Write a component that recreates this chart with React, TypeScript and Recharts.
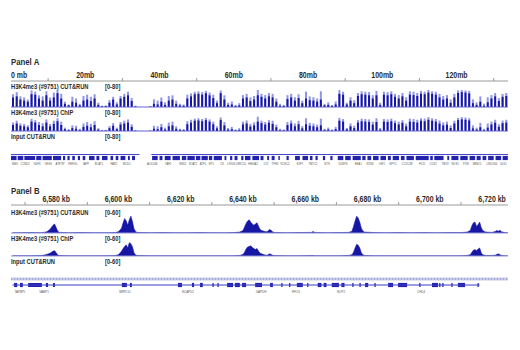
import React from 'react'
import { BarChart, Bar, XAxis, YAxis, ComposedChart, Area, ReferenceLine, ReferenceArea } from 'recharts'

const FONT = '"Liberation Sans", Arial, sans-serif'
const SQUEEZE = 0.82
const DARK = '#1616a4'
const LIGHT = '#9195e4'
const AXIS = '#9a9a9a'
const TEXT = '#2b2b2b'
const W = 497
const LEFT = 11

// ---- Panel A: whole chromosome, 1 mb bins (index = mb) ----
const cutrunLightA = [60, 70, 50, 45, 35, 78, 72, 55, 50, 74, 45, 68, 80, 62, 25, 12, 48, 40, 15, 52, 58, 48, 60, 20, 6, 8, 32, 48, 22, 52, 62, 72, 42, 6, 0, 0, 0, 4, 36, 30, 45, 22, 52, 55, 30, 15, 12, 58, 64, 72, 74, 70, 76, 68, 58, 30, 78, 55, 20, 26, 10, 18, 56, 62, 45, 52, 80, 62, 56, 66, 62, 40, 15, 10, 56, 62, 46, 60, 30, 72, 50, 46, 40, 74, 15, 22, 10, 26, 80, 72, 20, 46, 32, 66, 74, 72, 70, 56, 76, 20, 72, 70, 74, 62, 56, 66, 46, 74, 72, 66, 76, 72, 80, 74, 72, 62, 52, 56, 36, 62, 78, 80, 78, 76, 36, 22, 50, 16, 46, 56, 66, 42, 62, 66]
const cutrunDarkA = [45, 50, 35, 30, 25, 60, 58, 40, 30, 55, 30, 45, 65, 40, 15, 8, 25, 20, 8, 30, 35, 28, 40, 10, 3, 4, 20, 35, 12, 40, 48, 55, 28, 3, 0, 0, 0, 2, 15, 12, 25, 10, 30, 35, 15, 8, 6, 40, 50, 60, 62, 58, 65, 55, 42, 18, 65, 35, 10, 12, 5, 8, 40, 45, 28, 35, 55, 48, 40, 50, 45, 25, 6, 5, 38, 45, 30, 42, 18, 40, 32, 30, 25, 35, 8, 10, 5, 12, 62, 58, 12, 30, 18, 52, 60, 58, 55, 40, 55, 10, 58, 55, 60, 48, 40, 50, 30, 58, 56, 52, 62, 60, 68, 62, 58, 45, 35, 40, 20, 45, 66, 70, 68, 64, 18, 10, 25, 6, 22, 40, 50, 28, 48, 52]
const chipLightA = [45, 55, 40, 38, 30, 65, 58, 48, 42, 62, 38, 55, 68, 50, 18, 10, 30, 28, 12, 40, 48, 38, 52, 15, 5, 6, 26, 42, 18, 48, 55, 62, 36, 5, 0, 0, 0, 3, 28, 25, 38, 18, 45, 50, 25, 12, 10, 52, 60, 66, 68, 64, 70, 62, 50, 25, 72, 48, 16, 22, 8, 15, 50, 56, 38, 46, 76, 55, 48, 58, 55, 34, 12, 8, 48, 56, 40, 54, 26, 68, 44, 40, 34, 66, 12, 18, 8, 22, 70, 64, 16, 40, 28, 58, 66, 64, 62, 50, 68, 16, 64, 62, 66, 56, 50, 58, 40, 66, 64, 60, 68, 66, 74, 68, 64, 56, 46, 50, 30, 55, 70, 74, 72, 68, 30, 18, 44, 12, 40, 50, 60, 36, 56, 60]
const chipDarkA = [32, 40, 28, 25, 20, 50, 45, 32, 25, 45, 25, 38, 52, 32, 10, 5, 15, 12, 6, 22, 28, 20, 32, 8, 2, 3, 15, 28, 10, 35, 40, 45, 22, 2, 0, 0, 0, 1, 12, 10, 20, 8, 25, 30, 12, 6, 5, 36, 45, 55, 56, 52, 58, 50, 36, 14, 58, 30, 8, 10, 4, 6, 35, 40, 24, 30, 50, 42, 34, 44, 38, 20, 5, 4, 32, 40, 25, 36, 14, 36, 28, 25, 20, 30, 6, 8, 4, 10, 55, 50, 9, 25, 15, 45, 52, 50, 48, 34, 48, 8, 50, 48, 52, 42, 35, 44, 25, 50, 48, 45, 55, 52, 60, 55, 50, 40, 30, 34, 16, 40, 58, 62, 60, 56, 14, 8, 20, 5, 18, 35, 44, 22, 42, 45]

const rulerMajorA = [0, 20, 40, 60, 80, 100, 120]
const rulerTextA = ['0 mb', '20mb', '40mb', '60mb', '80mb', '100mb', '120mb']
const rulerMinorA = [10, 30, 50, 70, 90, 110, 130]
const chromLenA = 133.85

const inputSegmentsA: [number, number][] = [[0, 34.6], [37.8, 133.85]]

const geneBlocksA: [number, number][] = [
  [0, 1.5], [1.8, 3.3], [3.6, 6.5], [6.8, 8.2], [8.5, 11], [11.3, 13.5], [14, 14.6], [15.2, 15.8], [16.5, 17.2],
  [18, 18.6], [19.3, 20], [21, 22.5], [23, 23.8], [24.5, 26], [26.8, 27.5], [28.2, 28.9], [29.5, 30.8], [31.5, 32],
  [32.6, 33.4], [38, 39.5], [40, 40.8], [41.4, 43], [43.5, 45.5], [46, 47.2], [47.5, 49.5], [49.8, 51], [51.3, 53],
  [53.3, 54.2], [54.6, 56.8], [57.5, 58], [59, 59.6], [60.2, 61], [62, 62.6], [63, 64.5], [65, 66.8], [67.2, 68],
  [69, 69.5], [70.2, 71], [72, 72.4], [74.2, 74.8], [76.5, 77.8], [78.5, 80], [80.5, 81.2], [82, 82.6], [84, 84.6],
  [86, 86.6], [88, 89.5], [90, 91.5], [92, 94.2], [94.6, 95.5], [96, 97], [97.5, 99], [99.5, 101], [101.5, 102.3],
  [102.8, 104.5], [105, 106], [106.5, 108.5], [109, 112.5], [112.9, 113.6], [114, 116.5], [117.5, 118], [118.6, 120.5],
  [121, 123], [123.5, 125], [125.4, 126.5], [127, 128], [128.5, 130], [130.5, 132], [132.4, 133.8],
]
const geneLabelMbA = [1.0, 3.8, 7.0, 10.0, 13.2, 16.7, 20.2, 23.7, 27.7, 31.2, 38.0, 42.3, 46.3, 49.0, 51.7, 53.9, 56.8, 59.3, 61.9, 65.2, 68.7, 71.1, 73.8, 77.8, 81.3, 85.1, 89.4, 93.5, 96.7, 99.9, 102.9, 106.7, 110.7, 113.7, 116.9, 119.6, 122.5, 125.5, 129.5, 132.6]
const geneLabelTextA = ['SMG', 'CCND2', 'GDF3', 'VEGS', 'ATF7IP', 'RERGL', 'IAPP', 'BCAT1', 'FAR2', 'BICD1', 'ALG10B', 'YAF2', 'RND1', 'SOAT2', 'ATF1', 'SP1', 'CS', 'LRIG3', 'LRRC10', 'HMGA2', 'LYZ', 'TPH2', 'KCNC2', 'E2F7', 'TMTC2', 'NTS', 'DUSP6', 'EEA1', 'NTN4', 'IGF1', 'EPYC', 'CCDC38', 'FICD', 'CUX2', 'TBX3', 'NOS1', 'PXN', 'SBNO1', 'LINC944', 'ULK1']

// ---- Panel B: 6,565-6,725 kb ----
const kbB = [6566, 6569, 6572, 6575, 6576, 6577, 6578, 6579, 6579.5, 6580, 6580.5, 6581, 6584, 6588, 6592, 6596, 6599, 6600, 6601, 6601.5, 6602, 6602.5, 6603, 6603.5, 6604, 6604.5, 6605, 6605.5, 6606, 6610, 6614, 6618, 6622, 6626, 6630, 6634, 6637, 6639, 6640, 6640.5, 6641, 6641.5, 6642, 6642.5, 6643, 6643.5, 6644, 6644.5, 6645, 6645.5, 6646, 6647, 6647.5, 6648, 6648.5, 6649, 6649.5, 6650, 6654, 6658, 6662, 6662.5, 6663, 6667, 6671, 6674, 6675, 6675.5, 6676, 6676.5, 6677, 6677.5, 6678, 6678.5, 6679, 6682, 6686, 6690, 6694, 6698, 6702, 6706, 6710, 6712, 6713, 6713.5, 6714, 6714.5, 6715, 6715.5, 6716, 6716.5, 6717, 6717.5, 6718, 6720, 6721, 6721.5, 6722, 6722.5, 6723, 6724, 6725]
const cutrunB = [1, 1, 1.5, 1, 2, 4, 12, 26, 30, 18, 6, 2, 1, 1.5, 1, 1, 1.5, 4, 16, 34, 48, 40, 26, 44, 56, 38, 14, 5, 2, 1, 1.5, 1, 1, 1.5, 1, 1, 1.5, 3, 8, 20, 32, 40, 44, 36, 30, 26, 30, 34, 22, 12, 8, 5, 4, 6, 12, 9, 4, 2, 1, 1.5, 2, 5, 2, 1, 1.5, 2, 6, 22, 40, 56, 50, 36, 16, 7, 3, 1.5, 1, 1.5, 1, 1.5, 1, 1.5, 1.5, 3, 8, 24, 34, 36, 22, 28, 36, 18, 8, 5, 3, 2, 5, 8, 6, 9, 4, 1.5, 1]
const chipB = [1, 1, 1, 1.5, 3, 6, 10, 18, 20, 12, 4, 1.5, 1, 1, 1, 1, 1.5, 5, 18, 28, 36, 42, 30, 50, 46, 34, 12, 4, 2, 1, 1, 1, 1, 1, 1, 1, 1, 2, 6, 14, 26, 34, 36, 38, 32, 28, 24, 28, 18, 10, 8, 4, 3, 4, 8, 6, 3, 1.5, 1, 1, 1.5, 2, 1, 1, 1, 2, 5, 14, 30, 44, 40, 30, 12, 5, 2, 1, 1, 1, 1, 1, 1, 1, 1, 2, 5, 14, 22, 24, 20, 26, 30, 12, 5, 3, 2, 2, 3, 6, 8, 5, 2, 1, 1]

const domainB: [number, number] = [6565.5, 6725.1]
const rulerMajorB = [6580, 6600, 6620, 6640, 6660, 6680, 6700, 6720]
const rulerTextB = ['6,580 kb', '6,600 kb', '6,620 kb', '6,640 kb', '6,660 kb', '6,680 kb', '6,700 kb', '6,720 kb']
const rulerMinorB = [6570, 6590, 6610, 6630, 6650, 6670, 6690, 6710]

const transcriptB: [number, number] = [6566, 6716]
const exonsB: [number, number][] = [
  [6566.5, 6567.5], [6568.4, 6569.3], [6571, 6575.4], [6576.7, 6577.4], [6579, 6579.6], [6601.1, 6602.7], [6603.7, 6604.3],
  [6619.1, 6620.4], [6623.6, 6624.3], [6626.2, 6627.1], [6630.2, 6630.6], [6631.8, 6632.2], [6634.9, 6636.8], [6637.4, 6639],
  [6639.7, 6641], [6643.9, 6646.1], [6648.7, 6649.6], [6652.3, 6652.7], [6654.8, 6655.2], [6657.3, 6659.2], [6660.6, 6661],
  [6664, 6665.2], [6665.9, 6666.8], [6668.5, 6670.8], [6671.6, 6672.6], [6675.1, 6675.5], [6677.4, 6677.8], [6679.2, 6680.2],
  [6682.2, 6682.6], [6686.6, 6688.2], [6689.8, 6692.7], [6696.6, 6697], [6700.7, 6702.6], [6703, 6703.4], [6704, 6704.4],
  [6706.9, 6707.3], [6709, 6711.3], [6715.3, 6715.7],
]
const geneLabelKbB = [6568.4, 6576.1, 6602.1, 6622.3, 6645.8, 6657, 6671.5, 6697.2]
const geneLabelTextB = ['TAPBPL', 'VAMP1', 'MRPL51', 'NCAPD2', 'GAPDH', 'IFFO1', 'NOP2', 'CHD4']

const rowsA = cutrunLightA.map((v, i) => ({
  mb: i,
  cutLight: v,
  cutDark: cutrunDarkA[i],
  chipLight: chipLightA[i],
  chipDark: chipDarkA[i],
}))
const rowsB = kbB.map((kb, i) => ({ kb, cut: cutrunB[i], chip: chipB[i] }))

function Text({ x, y, size, children }: { x: number; y: number; size: number; children: React.ReactNode }) {
  return (
    <div
      style={{
        position: 'absolute', left: x, top: y, fontFamily: FONT, fontWeight: 700,
        fontSize: size, lineHeight: 1, color: TEXT, whiteSpace: 'nowrap',
        transform: `scaleX(${SQUEEZE})`, transformOrigin: 'left top',
      }}
    >
      {children}
    </div>
  )
}

function Ruler({ top, domain, major, text, minor }: {
  top: number; domain: [number, number]; major: number[]; text: string[]; minor: number[]
}) {
  const ticks = [...major, ...minor].sort((a, b) => a - b)
  const renderTick = (p: any) => {
    const i = major.indexOf(p.payload.value)
    if (i >= 0) {
      return (
        <text transform={`translate(${p.x},${p.y - 3}) scale(${SQUEEZE},1)`}
          textAnchor={p.payload.value === domain[0] ? 'start' : 'middle'}
          fontFamily={FONT} fontWeight={700} fontSize={8.5} fill={TEXT}>
          {text[i]}
        </text>
      )
    }
    return <line x1={p.x} x2={p.x} y1={p.y - 3} y2={p.y} stroke={AXIS} />
  }
  return (
    <div style={{ position: 'absolute', left: LEFT, top }}>
      <ComposedChart width={W} height={20} data={[{ x: domain[0] }, { x: domain[1] }]}
        margin={{ top: 0, right: 0, bottom: 0, left: 0 }}>
        <XAxis dataKey="x" type="number" domain={domain} ticks={ticks} interval={0} height={1} allowDataOverflow
          tickSize={0} tickMargin={0} tickLine={false} axisLine={{ stroke: AXIS }} tick={renderTick} />
        <YAxis hide domain={[0, 1]} allowDataOverflow />
      </ComposedChart>
    </div>
  )
}

function BarTrack({ top, height, light, dark }: { top: number; height: number; light: string; dark: string }) {
  return (
    <div style={{ position: 'absolute', left: LEFT, top }}>
      <BarChart width={W} height={height + 1} data={rowsA} margin={{ top: 0, right: 0, bottom: 1, left: 0 }}
        barGap={-2} barCategoryGap={0}>
        <XAxis dataKey="mb" hide />
        <YAxis hide domain={[0, 80]} allowDataOverflow />
        <ReferenceLine y={0} stroke="#6464d2" />
        <Bar dataKey={light} fill={LIGHT} barSize={2} isAnimationActive={false} />
        <Bar dataKey={dark} fill={DARK} barSize={2} isAnimationActive={false} />
      </BarChart>
    </div>
  )
}

function AreaTrack({ top, height, dataKey }: { top: number; height: number; dataKey: string }) {
  return (
    <div style={{ position: 'absolute', left: LEFT, top }}>
      <ComposedChart width={W} height={height + 1} data={rowsB} margin={{ top: 0, right: 0, bottom: 1, left: 0 }}>
        <XAxis dataKey="kb" type="number" domain={domainB} hide allowDataOverflow />
        <YAxis hide domain={[0, 60]} allowDataOverflow />
        <ReferenceLine y={0} stroke="#8f94d8" />
        <Area dataKey={dataKey} type="linear" fill={DARK} fillOpacity={1} stroke={DARK} strokeWidth={0.6}
          isAnimationActive={false} dot={false} activeDot={false} />
      </ComposedChart>
    </div>
  )
}

function GeneTrack({ top, domain, blocks, labelPos, labelText, fontSize, transcript }: {
  top: number; domain: [number, number]; blocks: [number, number][]; labelPos: number[]; labelText: string[];
  fontSize: number; transcript?: [number, number]
}) {
  const renderTick = (p: any) => {
    const i = labelPos.indexOf(p.payload.value)
    return (
      <text transform={`translate(${p.x},${p.y + fontSize + 1}) scale(${SQUEEZE},1)`} textAnchor="middle"
        fontFamily={FONT} fontSize={fontSize} fill="#555">
        {labelText[i]}
      </text>
    )
  }
  return (
    <div style={{ position: 'absolute', left: LEFT, top }}>
      <ComposedChart width={W} height={14} data={[{ x: domain[0] }, { x: domain[1] }]}
        margin={{ top: 0, right: 0, bottom: 0, left: 0 }}>
        <XAxis dataKey="x" type="number" domain={domain} ticks={labelPos} interval={0} height={8} allowDataOverflow
          tickSize={0} tickMargin={0} tickLine={false} axisLine={false} tick={renderTick} />
        <YAxis hide domain={[0, 1]} allowDataOverflow />
        {transcript && (
          <ReferenceLine segment={[{ x: transcript[0], y: 0.5 }, { x: transcript[1], y: 0.5 }]} stroke="#3a3ac4" />
        )}
        {blocks.map(([a, b], i) => (
          <ReferenceArea key={i} x1={a} x2={b} y1={0.15} y2={0.85} fill="#2222ae" fillOpacity={1} stroke="none" />
        ))}
      </ComposedChart>
    </div>
  )
}

function InputLineA({ top }: { top: number }) {
  return (
    <div style={{ position: 'absolute', left: LEFT, top }}>
      <ComposedChart width={W} height={3} data={[{ x: 0 }, { x: chromLenA }]} margin={{ top: 0, right: 0, bottom: 0, left: 0 }}>
        <XAxis dataKey="x" type="number" domain={[0, chromLenA]} hide allowDataOverflow />
        <YAxis hide domain={[0, 1]} allowDataOverflow />
        {inputSegmentsA.map(([a, b], i) => (
          <ReferenceLine key={i} segment={[{ x: a, y: 0.5 }, { x: b, y: 0.5 }]} stroke="#4646c8" strokeWidth={1} />
        ))}
      </ComposedChart>
    </div>
  )
}

function InputBandB({ top }: { top: number }) {
  return (
    <div style={{ position: 'absolute', left: LEFT, top }}>
      <ComposedChart width={W} height={4} data={[{ x: domainB[0] }, { x: domainB[1] }]} margin={{ top: 0, right: 0, bottom: 0, left: 0 }}>
        <XAxis dataKey="x" type="number" domain={domainB} hide allowDataOverflow />
        <YAxis hide domain={[0, 1]} allowDataOverflow />
        <ReferenceArea x1={domainB[0]} x2={domainB[1]} y1={0.1} y2={0.9} fill="#c8cbe8" fillOpacity={1} stroke="none" />
        <ReferenceLine y={0.5} stroke="#7c82cc" strokeDasharray="1 2" />
      </ComposedChart>
    </div>
  )
}

export default function App() {
  return (
    <div style={{ position: 'fixed', left: 0, top: 0, width: 520, height: 350, background: '#fff', overflow: 'hidden' }}>
      <Text x={11} y={57} size={9.5}>Panel A</Text>
      <Ruler top={62} domain={[0, chromLenA]} major={rulerMajorA} text={rulerTextA} minor={rulerMinorA} />
      <Text x={11} y={82.5} size={7}>H3K4me3 (#9751) CUT&amp;RUN</Text>
      <Text x={105} y={82.5} size={7}>[0-80]</Text>
      <BarTrack top={90} height={17} light="cutLight" dark="cutDark" />
      <Text x={11} y={108.5} size={7}>H3K4me3 (#9751) ChIP</Text>
      <Text x={105} y={108.5} size={7}>[0-80]</Text>
      <BarTrack top={116} height={15} light="chipLight" dark="chipDark" />
      <Text x={11} y={132.5} size={7}>Input CUT&amp;RUN</Text>
      <Text x={105} y={132.5} size={7}>[0-80]</Text>
      <InputLineA top={152.5} />
      <GeneTrack top={155} domain={[0, chromLenA]} blocks={geneBlocksA} labelPos={geneLabelMbA}
        labelText={geneLabelTextA} fontSize={3.3} />

      <Text x={11} y={185.5} size={9.5}>Panel B</Text>
      <Ruler top={186} domain={domainB} major={rulerMajorB} text={rulerTextB} minor={rulerMinorB} />
      <Text x={11} y={208.5} size={7}>H3K4me3 (#9751) CUT&amp;RUN</Text>
      <Text x={105} y={208.5} size={7}>[0-60]</Text>
      <AreaTrack top={215} height={18} dataKey="cut" />
      <Text x={11} y={234.5} size={7}>H3K4me3 (#9751) ChIP</Text>
      <Text x={105} y={234.5} size={7}>[0-60]</Text>
      <AreaTrack top={240} height={16} dataKey="chip" />
      <Text x={11} y={257.5} size={7}>Input CUT&amp;RUN</Text>
      <Text x={105} y={257.5} size={7}>[0-60]</Text>
      <InputBandB top={277} />
      <GeneTrack top={282} domain={domainB} blocks={exonsB} labelPos={geneLabelKbB} labelText={geneLabelTextB}
        fontSize={3.6} transcript={transcriptB} />
    </div>
  )
}
